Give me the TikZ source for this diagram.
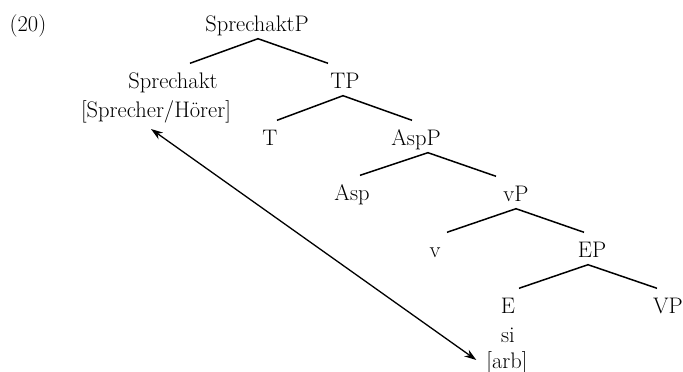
\documentclass[tikz,border=0pt]{standalone}
\usetikzlibrary{arrows.meta}
\begin{document}
\begin{tikzpicture}[x=1pt,y=-1pt,
  tn/.style={inner sep=0pt,text height=24.5pt,text depth=7.5pt,anchor=base,font=\fontsize{22.5}{29}\selectfont},
  br/.style={line width=1.5pt},
  arr/.style={line width=1.3pt,{Stealth[length=12pt,width=8pt]}-{Stealth[length=12pt,width=8pt]}}]
\useasboundingbox (0,0) rectangle (683,372);
\node[tn] (num) at (28,31) {(20)};
\node[tn] (sp) at (257,31) {SprechaktP};
\node[tn] (spk) at (173,88) {Sprechakt};
\node[tn] (sh) at (156,117) {[Sprecher/Hörer]};
\node[tn] (tp) at (345,88) {TP};
\node[tn] (t) at (270,145) {T};
\node[tn] (aspp) at (416,145) {AspP};
\node[tn] (asp) at (352,200) {Asp};
\node[tn] (vp) at (516,201) {vP};
\node[tn] (v) at (435,257) {v};
\node[tn] (ep) at (592,257) {EP};
\node[tn] (e) at (508,313) {E};
\node[tn] (bigvp) at (668,313) {VP};
\node[tn] (si) at (508,342) {si};
\node[tn] (arb) at (507,368) {[arb]};
\draw[br] ([xshift=17pt]spk.north) -- ([xshift=1pt]sp.south) -- ([xshift=-17pt]tp.north);
\draw[br] ([xshift=7pt]t.north) -- ([xshift=-2pt]tp.south) -- ([xshift=-4pt]aspp.north);
\draw[br] ([xshift=8pt]asp.north) -- ([xshift=12pt]aspp.south) -- ([xshift=-20pt]vp.north);
\draw[br] ([xshift=12pt]v.north) -- (vp.south) -- ([xshift=-8pt]ep.north);
\draw[br] ([xshift=11pt]e.north) -- ([xshift=-4pt]ep.south) -- ([xshift=-11pt]bigvp.north);
\draw[arr] ([xshift=-5pt,yshift=-12pt]sh.base) -- ([xshift=-10pt,yshift=8pt]arb.base west);
\end{tikzpicture}
\end{document}
